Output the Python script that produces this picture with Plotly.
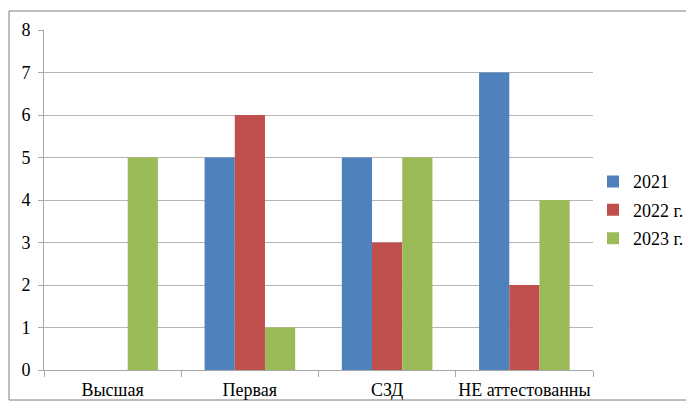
import plotly.graph_objects as go

categories = ["Высшая", "Первая", "СЗД", "НЕ аттестованны"]
s2021 = [0, 5, 5, 7]
s2022 = [0, 6, 3, 2]
s2023 = [5, 1, 5, 4]
series_names = ["2021", "2022 г.", "2023 г."]
colors = ["#4F81BD", "#C0504D", "#9BBB59"]

fig = go.Figure()
for i, (name, vals, col) in enumerate(zip(series_names, [s2021, s2022, s2023], colors)):
    fig.add_trace(go.Bar(x=categories, y=vals, name=name, marker_color=col,
                         marker_line_width=0, legendgroup=f"g{i}"))

font = dict(family="Liberation Serif", size=18, color="#000000")

# page body has an 8px margin, so the figure is sized to fit the window
W, H = 686, 399
ml, mr, mt, mb = 36, 101, 22, 37
pw, ph = W - ml - mr, H - mt - mb

def px(x):
    return (x - ml) / pw

def py(y):
    return (H - mb - y) / ph

fig.update_layout(
    width=W, height=H,
    margin=dict(l=ml, r=mr, t=mt, b=mb, autoexpand=False),
    paper_bgcolor="white", plot_bgcolor="white",
    font=font,
    barmode="group", bargap=0.34, bargroupgap=0,
    xaxis=dict(showline=True, linecolor="#A6A6A6", linewidth=1,
               ticks="outside", tickcolor="#A6A6A6", ticklen=6,
               ticklabelstandoff=3,
               tickson="boundaries", showgrid=False, tickfont=font,
               tickangle=0, automargin=False),
    yaxis=dict(range=[0, 8], dtick=1, showline=True, linecolor="#A6A6A6",
               linewidth=1, ticks="outside", tickcolor="#A6A6A6", ticklen=5,
               ticklabelstandoff=4, automargin=False,
               gridcolor="#B5B5B5", gridwidth=1, zeroline=False, tickfont=font),
    legend=dict(x=1.0, xanchor="left", y=0.47, yanchor="middle",
                font=font, itemwidth=30, tracegroupgap=2),
    showlegend=True,
    shapes=[dict(type="rect", xref="paper", yref="paper",
                 x0=px(1), x1=px(680), y0=py(392), y1=py(3),
                 line=dict(color="#7F7F7F", width=1), layer="below")],
)

fig.write_html("out.html")
